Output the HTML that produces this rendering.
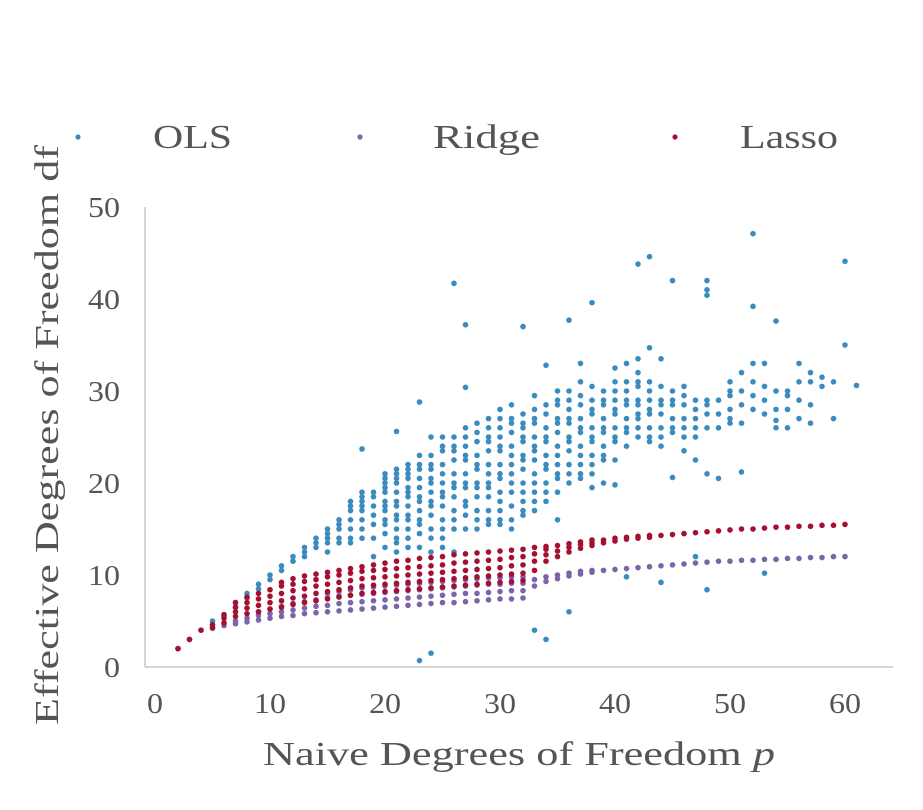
<!DOCTYPE html>
<html><head><meta charset="utf-8"><style>
body{margin:0;background:#fff;width:923px;height:805px;overflow:hidden}
svg text{font-family:"Liberation Serif",serif;fill:#555}
</style></head><body>
<svg id="chart" width="923" height="805">
<g>
<circle cx="78" cy="137" r="2.6" fill="#3a8bbf"/>
<text x="153" y="148" font-size="34" textLength="79" lengthAdjust="spacingAndGlyphs">OLS</text>
<circle cx="360" cy="137" r="2.6" fill="#7b64a8"/>
<text x="433" y="148" font-size="34" textLength="107" lengthAdjust="spacingAndGlyphs">Ridge</text>
<circle cx="675" cy="137" r="2.6" fill="#a50f30"/>
<text x="740" y="148" font-size="34" textLength="98" lengthAdjust="spacingAndGlyphs">Lasso</text>
</g>
<line x1="145" y1="207" x2="145" y2="667" stroke="#bbb" stroke-width="1.2"/>
<line x1="145" y1="667" x2="893" y2="667" stroke="#bbb" stroke-width="1.2"/>
<g id="xt"></g>
<g id="yt"></g>
<g id="pts"></g>
<text x="263" y="765" font-size="34" textLength="512" lengthAdjust="spacingAndGlyphs">Naive Degrees of Freedom <tspan font-style="italic">p</tspan></text>
<text transform="translate(58,725) rotate(-90)" font-size="34" textLength="580" lengthAdjust="spacingAndGlyphs">Effective Degrees of Freedom df</text>
</svg>
<script>
const xTicks=[0,10,20,30,40,50,60];
const yTicks=[0,10,20,30,40,50];
const olsCols=[[2,[2]],[3,[3]],[4,[4]],[5,[5]],[6,[5.5]],[7,[6.5,7]],[8,[7.5,8]],[9,[8.5,9]],[10,[9.5,10]],[11,[10.5,11]],[12,[11.5,12]],[13,[12,12.5,13]],[14,[13,13.5,14]],
[15,[12.5,13.5,14,14.5,15]],[16,[13.5,14,15,15.5,16]],[17,[13.5,14,15,16,17,17.5,18]],[18,[14,15,16,17,17.5,18,18.5,19,23.7]],[19,[12,14,15.5,16.5,17.5,18.5,19]],
[20,[13,14.5,16,17,18,19,20,20.5,21]],[21,[12.5,14,15,16.5,18,19,20,21,21.5,25.6]],[22,[13,15,16,17.5,18.5,19.5,20.5,21.5,22]],[23,[0.7,13,14.5,16,17,18.5,19.5,20.5,22,23,28.8]],
[24,[1.5,12.5,15,16.5,18,19,20.5,21.5,23,25]],[25,[13,15,16,17.5,19,20,22,23.5,25]],[26,[12.5,15,17,18.5,20,21,22.5,24,25,41.7]],[27,[15,16.5,18,20,21,22.5,24,26,30.4,37.2]],
[28,[15,17,18.5,20,21.5,23,24.5,26.5]],[29,[15.5,17,18.5,20,22,23.5,25,27]],[30,[15.5,17,19,20.5,22,23.5,25,26,28]],[31,[15,17.5,19,21,22,24,25.5,27,28.5]],
[32,[16.5,18,20,21.5,23,24.5,26,27.5,37]],[33,[4,17,19,21,22.5,24,25,26.5,28,29.5]],[34,[3,18,20,21.5,23,24.5,26,27.5,32.8]],[35,[16,19,20.5,22,24,25.5,27,28.5,30]],
[36,[6,20,22,23.5,25,26.5,28,30,37.7]],[37,[20.5,22,24,25.5,27,28.5,31,33]],[38,[19.5,21,23,24.5,26,27.5,29,39.6]],[39,[20,22.5,24,25.5,27,28.5,30]],
[40,[19.8,22.5,24.5,26,27.5,29,31,32.5]],[41,[9.8,24,25.5,27,28.5,30,33]],[42,[25,26,27.5,29,30.5,32,33.5,43.8]],[43,[24.5,26,27.5,29,31,34.7,44.6]],
[44,[9.2,24,26,27.5,29,30.5,33.5]],[45,[20.6,25.5,27,28.5,30,42]],[46,[23.5,25,27,28.5,30.5]],[47,[12,22.5,25,27,29]],[48,[8.4,21,26,27.5,29,40.4,41,42]],
[49,[20.5,26,27.5,29]],[50,[26.5,28,29.5,30,31]],[51,[21.2,26.5,28.5,30,32]],[52,[28,29.5,31,33,39.2,47.1]],[53,[10.2,27.5,29,30.5,33]],[54,[26,26.8,28,30,37.6]],
[55,[26,28,29.5,30]],[56,[27,29,31,33]],[57,[26.5,28.5,31,32]],[58,[30.5,31.5]],[59,[27,31]],[60,[35,44.1]],[61,[30.6]]];
const olsExtra=[[20,[15.5,17.5,19.5]],[21,[13.5,16,17.5,20.5]],[22,[14,16.5,19,21]],[23,[15.5,18,21.5]],[24,[14,17.5,20,22]],[25,[14,18.5,21,24]],[26,[16,19.5,23.5]],
[27,[17.5,19.5,23,25]],[28,[16,19.5,22,25.5]],[29,[16,19.5,21,24.5,26]],[30,[16,18,21,24,27]],[31,[16,20,23,26.5]],[32,[17,19,22.5,25,26.5]],[33,[18,20,23.5,27]],
[34,[19,22,25,28.5]],[35,[21,23,26.5,29]],[36,[21,24.5,27,29]],[37,[21,23,26,29.5]],[38,[22,25,28,30.5]],[39,[23,26,29]],[40,[25,28,30]],[41,[26,29,31]],
[42,[27,28.5,31]],[43,[25,28,30]],[44,[25,28.5]],[45,[26,29]],[46,[26,29.5]],[47,[26,28]],[48,[28.5]],[50,[27]]];
const ridgeCols=[[5,[4.2]],[6,[4.5]],[7,[4.7,5]],[8,[4.9,5.3]],[9,[5.1,5.6,6]],[10,[5.3,5.8,6.3]],[11,[5.5,6,6.6]],[12,[5.6,6.2,6.9]],[13,[5.8,6.4,7.1]],[14,[5.9,6.6,7.3]],
[15,[6,6.7,7.5,8]],[16,[6.1,6.9,7.7,8.2]],[17,[6.2,7,7.8,8.4]],[18,[6.3,7.1,7.9,8.6]],[19,[6.4,7.2,8,8.7]],[20,[6.5,7.3,8.1,8.8]],[21,[6.6,7.4,8.2,8.9]],
[22,[6.7,7.5,8.3,9]],[23,[6.8,7.6,8.4,9.1]],[24,[6.9,7.7,8.5,9.2]],[25,[7,7.8,8.6,9.3]],[26,[7,7.9,8.7,9.4]],[27,[7.1,8,8.8,9.5]],[28,[7.2,8,8.9,9.6]],
[29,[7.3,8.1,9,9.7]],[30,[7.4,8.2,9,9.7]],[31,[7.4,8.3,9.1,9.8]],[32,[7.5,8.3,9.1,9.8]],[33,[8.8,9.5]],[34,[9.3,9.8]],[35,[9.6,10]],[36,[9.9,10.2]],[37,[10.1,10.4]],
[38,[10.3,10.5]],[39,[10.5]],[40,[10.6]],[41,[10.7]],[42,[10.8]],[43,[10.9]],[44,[11]],[45,[11.1]],[46,[11.2]],[47,[11.3]],[48,[11.4]],[49,[11.5]],[50,[11.5]],
[51,[11.6]],[52,[11.6]],[53,[11.7]],[54,[11.7]],[55,[11.8]],[56,[11.8]],[57,[11.9]],[58,[11.9]],[59,[12]],[60,[12]]];
const lassoCols=[[2,[2]],[3,[3]],[4,[4]],[5,[4.3,4.6]],[6,[4.8,5.3,5.7]],[7,[5.5,6,6.5,7]],[8,[5.8,6.4,7,7.6]],[9,[6,6.7,7.4,8]],[10,[6.3,7,7.7,8.4]],
[11,[6.5,7.2,8,8.8,9.2]],[12,[6.8,7.5,8.3,9,9.6]],[13,[7,7.7,8.5,9.3,9.9]],[14,[7.2,8,8.8,9.5,10.1]],[15,[7.4,8.2,9,9.8,10.3]],[16,[7.6,8.4,9.2,10,10.5]],
[17,[7.8,8.6,9.4,10.2,10.7]],[18,[8,8.8,9.6,10.4,10.9]],[19,[8.1,8.9,9.7,10.5,11.1]],[20,[8.2,9,9.8,10.6,11.3]],[21,[8.3,9.1,9.9,10.7,11.5]],[22,[8.4,9.2,10,10.8,11.6]],
[23,[8.5,9.3,10.1,10.9,11.8]],[24,[8.6,9.4,10.2,11,11.9]],[25,[8.7,9.5,10.3,11.1,12]],[26,[8.8,9.6,10.4,11.3,12.2]],[27,[8.9,9.7,10.5,11.4,12.3]],
[28,[9,9.8,10.6,11.5,12.4]],[29,[9.1,9.9,10.7,11.6,12.5]],[30,[9.2,10,10.8,11.7,12.6]],[31,[9.3,10.1,11,11.9,12.7]],[32,[9.4,10.2,11.1,12,12.8]],
[33,[10.5,11.5,12.3,13]],[34,[11.5,12.2,12.8,13.1]],[35,[12,12.6,13.2]],[36,[12.5,13,13.4]],[37,[12.9,13.3,13.6]],[38,[13.2,13.5,13.8]],[39,[13.5,13.8]],
[40,[13.7,14]],[41,[13.9,14.1]],[42,[14,14.2]],[43,[14.1,14.3]],[44,[14.3]],[45,[14.4]],[46,[14.5]],[47,[14.6]],[48,[14.7]],[49,[14.8]],[50,[14.9]],[51,[15]],
[52,[15]],[53,[15.1]],[54,[15.2]],[55,[15.2]],[56,[15.3]],[57,[15.3]],[58,[15.4]],[59,[15.4]],[60,[15.5]]];
const NS='http://www.w3.org/2000/svg';
const sx=v=>155+v*11.5, sy=v=>667-v*9.2;
const xt=document.getElementById('xt'), yt=document.getElementById('yt'), pts=document.getElementById('pts');
xTicks.forEach(t=>{const e=document.createElementNS(NS,'text');e.setAttribute('x',sx(t));e.setAttribute('y',713);e.setAttribute('font-size','28');e.setAttribute('text-anchor','middle');e.setAttribute('textLength',String(t).length*16);e.setAttribute('lengthAdjust','spacingAndGlyphs');e.textContent=t;


xt.appendChild(e);});
yTicks.forEach(t=>{const e=document.createElementNS(NS,'text');e.setAttribute('x',120);e.setAttribute('y',sy(t)+10);e.setAttribute('font-size','28');e.setAttribute('text-anchor','end');e.setAttribute('textLength',String(t).length*16);e.setAttribute('lengthAdjust','spacingAndGlyphs');e.textContent=t;


yt.appendChild(e);});
function draw(cols,color,name){cols.forEach(([x,ys])=>ys.forEach(y=>{const c=document.createElementNS(NS,'circle');c.setAttribute('cx',sx(x));c.setAttribute('cy',sy(y));c.setAttribute('r',2.8);c.setAttribute('fill',color);


pts.appendChild(c);}));}
draw(olsCols,'#3a8bbf','ols-point');
draw(olsExtra,'#3a8bbf','ols-point');
draw(ridgeCols,'#7b64a8','ridge-point');
draw(lassoCols,'#a50f30','lasso-point');
</script>
</body></html>
